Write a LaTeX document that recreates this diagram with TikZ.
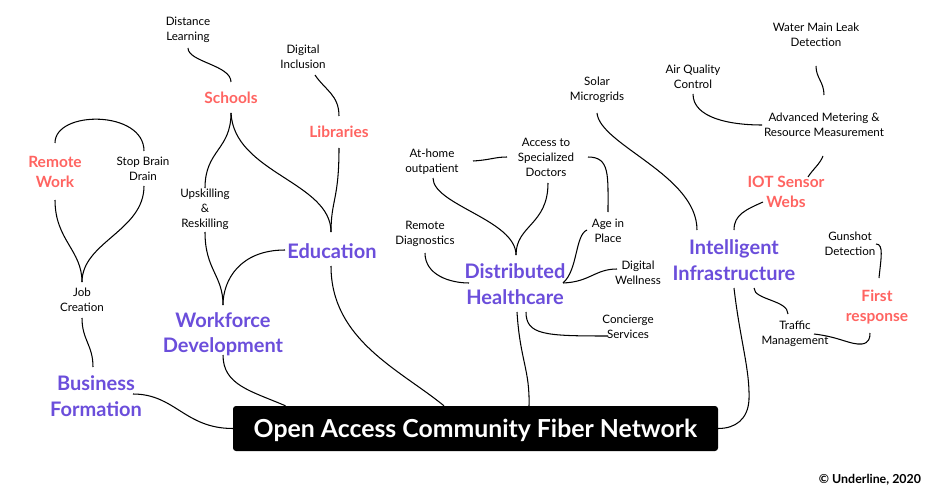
\documentclass[tikz,border=0pt]{standalone}
\usepackage{fontspec}
\setmainfont{Lato}
\definecolor{pur}{HTML}{6B4EDB}
\definecolor{sal}{HTML}{FF6461}
\begin{document}
\begin{tikzpicture}[x=1pt,y=-1pt,
  sm/.style={align=center,inner sep=0pt,font=\fontsize{11.6}{15}\selectfont},
  rd/.style={align=center,inner sep=0pt,text=sal,font=\bfseries\fontsize{15.5}{19.5}\selectfont},
  pu/.style={align=center,inner sep=0pt,text=pur,font=\bfseries\fontsize{20}{25.5}\selectfont},
  mainbox/.style={fill=black,text=white,rounded corners=3pt,minimum width=485pt,minimum height=45pt,inner sep=0pt,text height=18pt,text depth=0pt,font=\bfseries\fontsize{24.8}{28}\selectfont},
  link/.style={line width=1.05pt,black}]
\path[fill=white,use as bounding box] (0,0) rectangle (940,500);

% main
\node[mainbox] (box) at (475.5,428.5) {Open Access Community Fiber Network};

% purple
\node[pu] (bf) at (96,396) {Business\\Formation};
\node[pu] (wd) at (223,334) {Workforce\\Development};
\node[pu] (edu) at (332,251) {Education};
\node[pu] (dh) at (515,284) {Distributed\\Healthcare};
\node[pu] (ii) at (734,260) {Intelligent\\Infrastructure};

% red
\node[rd] (rw) at (55,172) {Remote\\Work};
\node[rd] (sch) at (231,98) {Schools};
\node[rd] (lib) at (339,132) {Libraries};
\node[rd] (iot) at (786,192) {IOT Sensor\\Webs};
\node[rd] (fr) at (877,307) {First\\response};

% small
\node[sm] (dl) at (188,30) {Distance\\Learning};
\node[sm] (di) at (303,57) {Digital\\Inclusion};
\node[sm] (sbd) at (143,169) {Stop Brain\\Drain};
\node[sm] (up) at (205,209) {Upskilling\\\&\\Reskilling};
\node[sm] (jc) at (82,300) {Job\\Creation};
\node[sm] (ah) at (432,162) {At-home\\outpatient};
\node[sm] (asd) at (546,157) {Access to\\Specialized\\Doctors};
\node[sm] (rdg) at (425,234) {Remote\\Diagnostics};
\node[sm] (aip) at (608,231) {Age in\\Place};
\node[sm] (dw) at (638,273) {Digital\\Wellness};
\node[sm] (cs) at (628,327) {Concierge\\Services};
\node[sm] (smg) at (597,90) {Solar\\Microgrids};
\node[sm] (aq) at (693,77) {Air Quality\\Control};
\node[sm] (wm) at (816,35) {Water Main Leak\\Detection};
\node[sm] (am) at (824,125) {Advanced Metering \&\\Resource Measurement};
\node[sm] (gd) at (850,244) {Gunshot\\Detection};
\node[sm] (tm) at (795,334) {Traffic\\Management};
\node[inner sep=0pt,font=\bfseries\fontsize{12.4}{14}\selectfont] (cr) at (870,480) {© Underline, 2020};

% connectors
\draw[link] ([shift={(37,-2)}]bf.center) .. controls +(42,0) and +(-48,0) .. (box.west);
\draw[link] ([shift={(0,21)}]wd.center) .. controls +(0,30) and +(-35,-15) .. ([shift={(-190,0)}]box.north);
\draw[link] ([shift={(-1,15)}]edu.center) .. controls +(0,74) and +(-44,-36) .. ([shift={(-31.5,0)}]box.north);
\draw[link] ([shift={(2,28)}]dh.center) .. controls +(3,48) and +(1,-36) .. ([shift={(53.5,0)}]box.north);
\draw[link] ([shift={(0,28)}]ii.center) .. controls +(6,52) and +(1,-30) .. ([shift={(15,-29)}]ii.center |- box.east) .. controls +(-1,20) and +(17,0) .. (box.east);

\draw[link] ([shift={(0,18)}]jc.center) .. controls +(0,22) and +(0,-22) .. ([shift={(-3,-29)}]bf.center);
\draw[link] ([shift={(0,28)}]rw.center) .. controls +(0,40) and +(0,-32) .. ([shift={(0,-18)}]jc.center);
\draw[link] ([shift={(1,17)}]sbd.center) .. controls +(0,45) and +(0,-40) .. ([shift={(0,-18)}]jc.center);
\draw[link] ([shift={(0,-29)}]rw.center) .. controls +(0,-33) and +(0,-41) .. ([shift={(1,-18)}]sbd.center);

\draw[link] ([shift={(0,18)}]dl.center) .. controls +(0,14) and +(0,-17) .. ([shift={(0,-16)}]sch.center);
\draw[link] ([shift={(0,15)}]sch.center) .. controls +(0,37) and +(0,-38) .. ([shift={(0,-21)}]up.center);
\draw[link] ([shift={(0,15)}]sch.center) .. controls +(3,60) and +(0,-50) .. ([shift={(-1,-19)}]edu.center);
\draw[link] ([shift={(0,16)}]lib.center) .. controls +(0,52) and +(0,-32) .. ([shift={(-1,-19)}]edu.center);
\draw[link] ([shift={(12,18)}]di.center) .. controls +(10,15) and +(0,-21) .. ([shift={(0,-16)}]lib.center);
\draw[link] ([shift={(0,23)}]up.center) .. controls +(0,38) and +(0,-30) .. ([shift={(0,-29)}]wd.center);
\draw[link] ([shift={(-47,-1)}]edu.center) .. controls +(-45,0) and +(0,-25) .. ([shift={(0,-29)}]wd.center);

\draw[link] ([shift={(1,16)}]ah.center) .. controls +(0,27) and +(0,-35) .. ([shift={(1,-29)}]dh.center);
\draw[link] ([shift={(2,26)}]asd.center) .. controls +(0,42) and +(0,-30) .. ([shift={(1,-29)}]dh.center);
\draw[link] ([shift={(41,-1)}]ah.center) .. controls +(17,-1) and +(-12,0) .. ([shift={(-39,0)}]asd.center);
\draw[link] ([shift={(42,0)}]asd.center) .. controls +(22,0) and +(0,-37) .. ([shift={(0,-19)}]aip.center);
\draw[link] ([shift={(0,19)}]rdg.center) .. controls +(0,22) and +(-19,0) .. ([shift={(-46,-1)}]dh.center);
\draw[link] ([shift={(-21,-1)}]aip.center) .. controls +(-12,5) and +(15,-13) .. ([shift={(48,-1)}]dh.center);
\draw[link] ([shift={(-21,-4)}]dw.center) .. controls +(-22,0) and +(27,-1) .. ([shift={(48,-1)}]dh.center);
\draw[link] ([shift={(11,28)}]dh.center) .. controls +(0,23) and +(-63,0) .. ([shift={(-20,9)}]cs.center);

\draw[link] ([shift={(0,23)}]smg.center) .. controls +(3,32) and +(0,-55) .. ([shift={(-37,-30)}]ii.center);
\draw[link] ([shift={(-23,10)}]iot.center) .. controls +(-18,8) and +(0,-15) .. ([shift={(0,-30)}]ii.center);
\draw[link] ([shift={(-1,31)}]am.center) .. controls +(-3,8) and +(5,-8) .. ([shift={(22,-15)}]iot.center);
\draw[link] ([shift={(0,17)}]aq.center) .. controls +(0,24) and +(-32,0) .. ([shift={(-62,0)}]am.center);
\draw[link] ([shift={(0,31)}]wm.center) .. controls +(0,12) and +(0,-13) .. ([shift={(0,-30)}]am.center);
\draw[link] ([shift={(20,28)}]ii.center) .. controls +(0,12) and +(0,-14) .. ([shift={(-7,-20)}]tm.center);
\draw[link] ([shift={(19,0)}]tm.center) .. controls +(26,3) and +(-12,1) .. ([shift={(-15,37)}]fr.center) .. controls +(7,-1) and +(0,5) .. ([shift={(-7,26)}]fr.center);
\draw[link] ([shift={(26,0)}]gd.center) .. controls +(8,0) and +(2,-20) .. ([shift={(2,-29)}]fr.center);
\end{tikzpicture}
\end{document}
